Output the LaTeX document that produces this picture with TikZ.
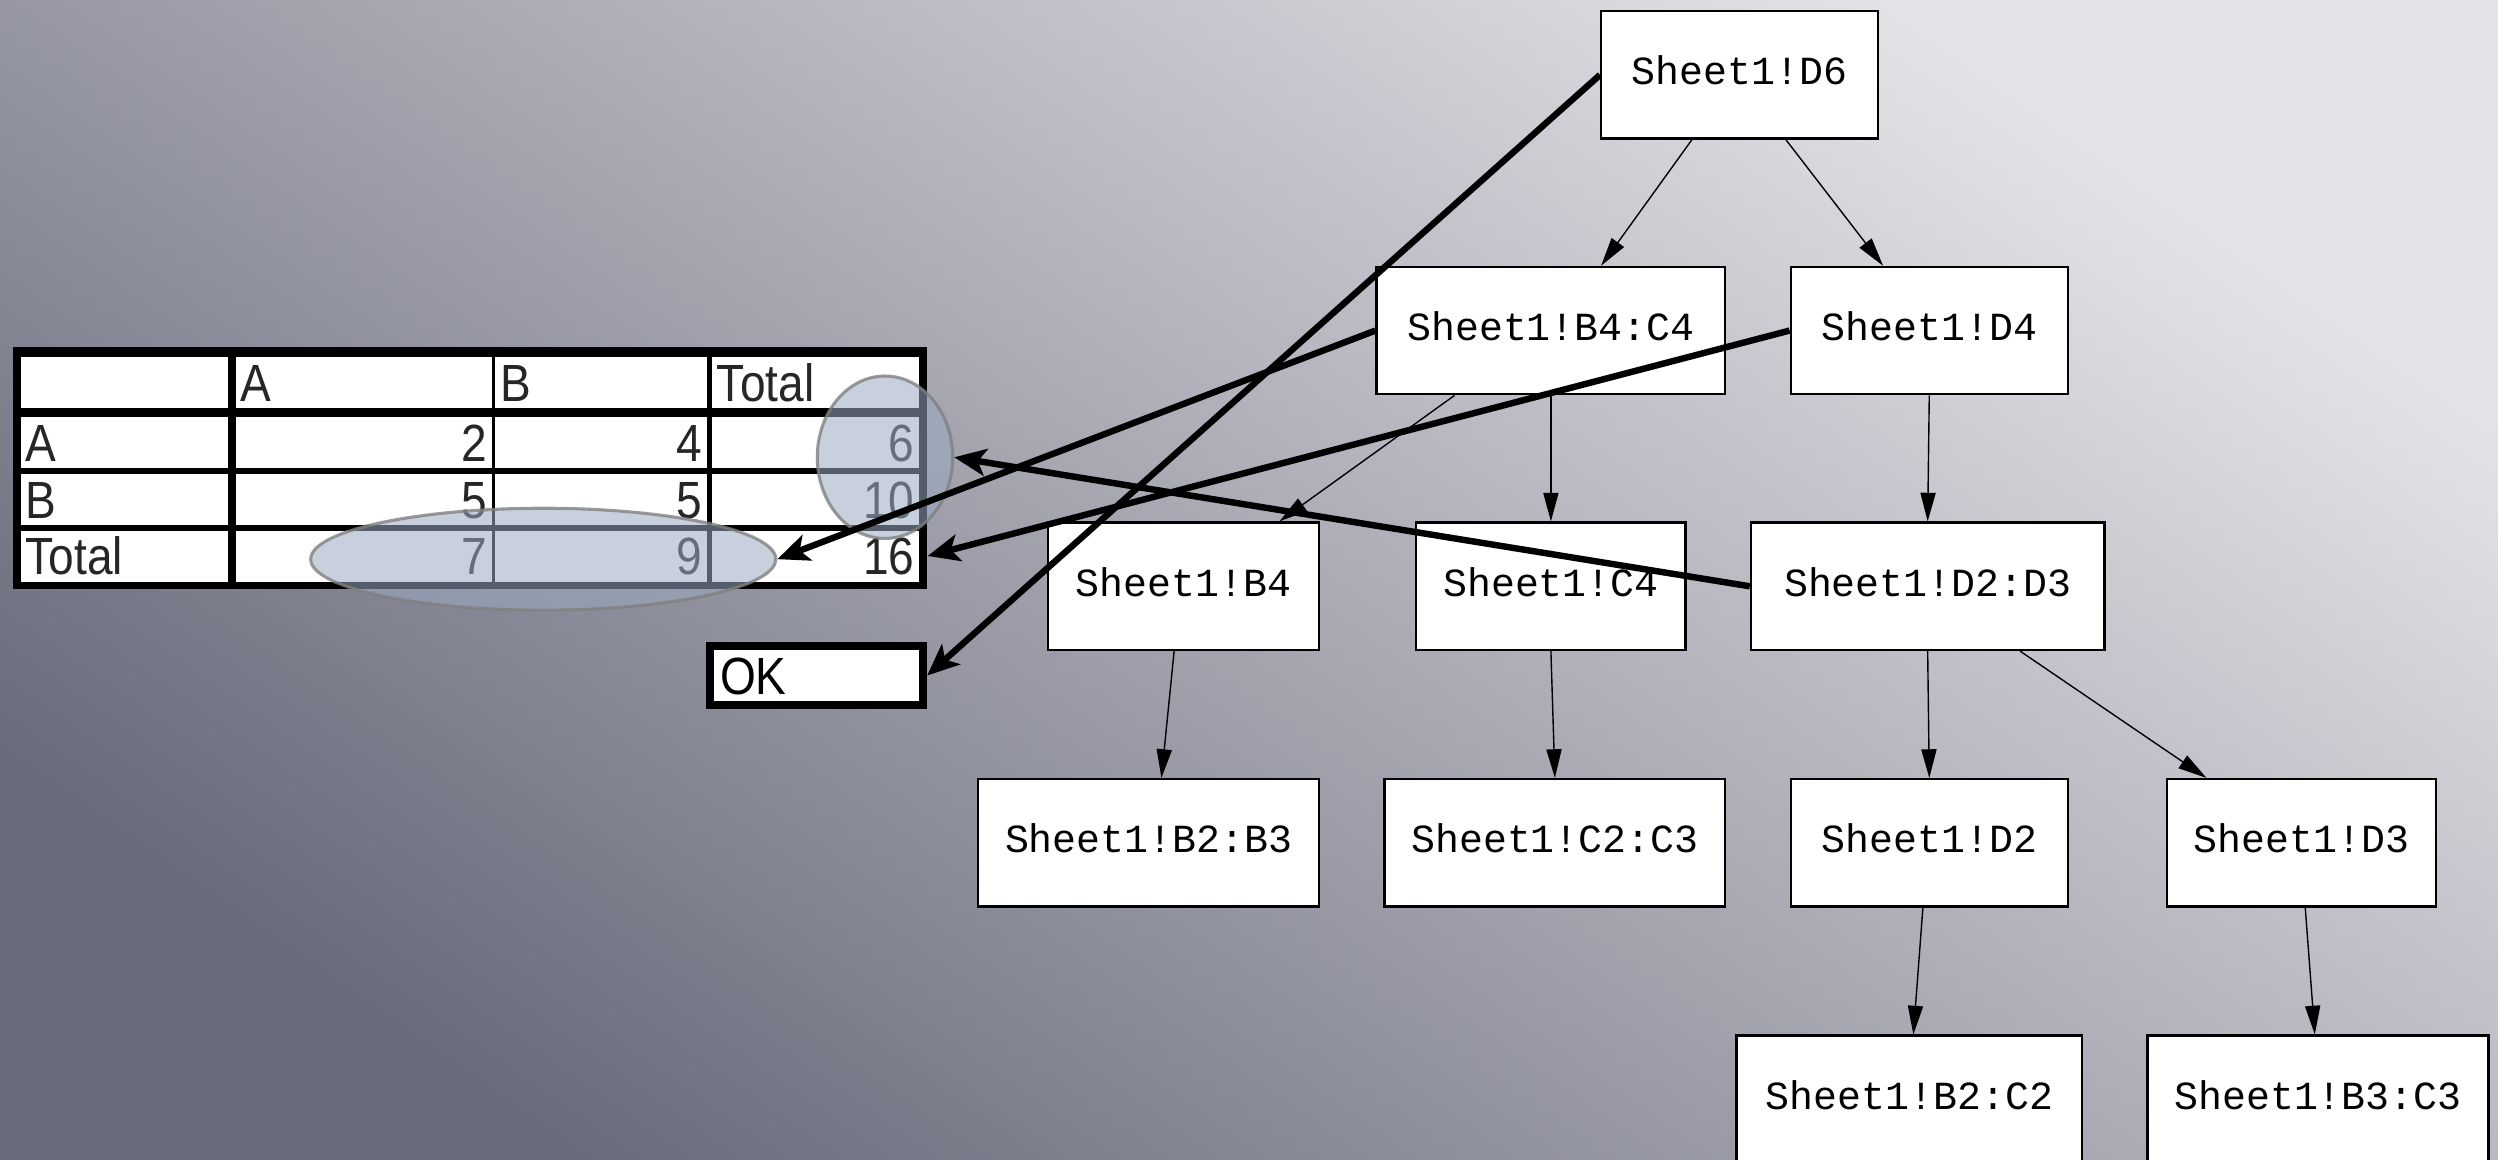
\documentclass[tikz,border=0pt]{standalone}
\usepackage{fontspec}
\usepackage{tikz}
\usetikzlibrary{calc, shapes.geometric, arrows.meta}
\newfontfamily\refmono{Liberation Mono}
\newfontfamily\gridsans[FakeStretch=0.88]{Liberation Sans}
\definecolor{bgdark}{HTML}{6A6C7C}
\definecolor{bglight}{HTML}{E4E4E8}
\definecolor{halofill}{HTML}{9AAAC0}
\tikzstyle{Link} = [
%Thick arrow from a formula box back to the sheet:
line width=2.3pt,
-{Stealth[length=0.4cm, width=0.34cm, inset=0.1cm]}
]
\tikzstyle{Dep} = [
line width=0.5pt,
-{Triangle[length=0.36cm, width=0.19cm]}
]

\begin{document}
\begin{tikzpicture}[x=0.02cm, y=-0.02cm,
				ref/.style = {rectangle, draw, fill=white, line width=0.8pt, minimum height=1.6cm, inner sep=0pt, text height=0.33cm, text depth=0.08cm, font=\refmono\fontsize{14.25}{16}\selectfont},
				cell/.style = {rectangle, fill=white, inner xsep=0.06cm, inner ysep=0pt, minimum height=0.64cm, text height=0.47cm, text depth=0pt, text=black!85, font=\gridsans\fontsize{18.7}{20}\selectfont},
				lcell/.style = {cell, text width=#1, align=left},
				rcell/.style = {cell, text width=#1, align=right},
				halo/.style = {ellipse, draw=gray, draw opacity=0.8, line width=1.1pt, fill=halofill, fill opacity=0.55, inner sep=0pt},
			]
			\shade[top color=bglight, bottom color=bgdark, shading angle=-35] (0,0) rectangle (1568,728);
			\useasboundingbox (0,0) rectangle (1568,728);

			% the sheet
			\node[rectangle, fill=black, inner sep=0pt, minimum width=11.48cm, minimum height=3.04cm](tbl) at (295,294){};
			\node[lcell=2.48cm](h0) at (78,240){};
			\node[lcell=3.10cm](h1) at (228.5,240){A};
			\node[lcell=2.54cm](h2) at (377.5,240){B};
			\node[lcell=2.48cm](h3) at (512,240){Total};
			\node[lcell=2.48cm](a0) at (78,278){A};
			\node[rcell=3.10cm](a1) at (228.5,278){2};
			\node[rcell=2.54cm](a2) at (377.5,278){4};
			\node[rcell=2.48cm](a3) at (512,278){6};
			\node[lcell=2.48cm](b0) at (78,313.5){B};
			\node[rcell=3.10cm](b1) at (228.5,313.5){5};
			\node[rcell=2.54cm](b2) at (377.5,313.5){5};
			\node[rcell=2.48cm](b3) at (512,313.5){10};
			\node[lcell=2.48cm](t0) at (78,349){Total};
			\node[rcell=3.10cm](t1) at (228.5,349){7};
			\node[rcell=2.54cm](t2) at (377.5,349){9};
			\node[rcell=2.48cm](t3) at (512,349){16};

			\node[halo, minimum width=1.7cm, minimum height=2.04cm](colsum) at (555.5,287){};
			\node[halo, minimum width=5.84cm, minimum height=1.28cm](rowsum) at (341,351){};

			\node[draw, line width=0.1cm, fill=white, inner xsep=0.13cm, inner ysep=0pt, minimum height=0.74cm, text width=2.42cm, align=left, text height=0.47cm, text depth=0pt, font=\gridsans\fontsize{18.7}{20}\selectfont](ok) at (512.5,424){OK};

			% the formula tree
			\node[ref, minimum width=3.48cm](d6) at (1092,47){Sheet1!D6};
			\node[ref, minimum width=4.38cm](b4c4) at (973.5,207.5){Sheet1!B4:C4};
			\node[ref, minimum width=3.48cm](d4) at (1211,207.5){Sheet1!D4};
			\node[ref, minimum width=3.40cm](b4) at (743,368){Sheet1!B4};
			\node[ref, minimum width=3.38cm](c4) at (973.5,368){Sheet1!C4};
			\node[ref, minimum width=4.44cm](d2d3) at (1210,368){Sheet1!D2:D3};
			\node[ref, minimum width=4.28cm](b2b3) at (721,529){Sheet1!B2:B3};
			\node[ref, minimum width=4.28cm](c2c3) at (976,529){Sheet1!C2:C3};
			\node[ref, minimum width=3.48cm](d2) at (1211,529){Sheet1!D2};
			\node[ref, minimum width=3.38cm](d3) at (1444.5,529){Sheet1!D3};
			\node[ref, minimum width=4.34cm](b2c2) at (1198.5,690){Sheet1!B2:C2};
			\node[ref, minimum width=4.28cm](b3c3) at (1455,690){Sheet1!B3:C3};

			\draw[Dep]($(d6.south)+(-30,0)$)--($(b4c4.north)+(31.5,0)$);
			\draw[Dep]($(d6.south)+(29,0)$)--($(d4.north)+(-29,0)$);
			\draw[Dep]($(b4c4.south)+(-60.5,0)$)--($(b4.north)+(60,0)$);
			\draw[Dep](b4c4.south)--(c4.north);
			\draw[Dep](d4.south)--(d2d3.north);
			\draw[Dep]($(b4.south)+(-6,0)$)--($(b2b3.north)+(8,0)$);
			\draw[Dep](c4.south)--(c2c3.north);
			\draw[Dep](d2d3.south)--(d2.north);
			\draw[Dep]($(d2d3.south)+(58,0)$)--($(d3.north)+(-59.5,0)$);
			\draw[Dep]($(d2.south)+(-4,0)$)--($(b2c2.north)+(2.5,0)$);
			\draw[Dep]($(d3.south)+(2.5,0)$)--($(b3c3.north)+(-2,0)$);

			\draw[Link](d6.west)--(ok.east);
			\draw[Link](b4c4.west)--(rowsum.east);
			\draw[Link](d4.west)--(t3.east -| tbl.east);
			\draw[Link](d2d3.west)--(colsum.east);

		\end{tikzpicture}
\end{document}
